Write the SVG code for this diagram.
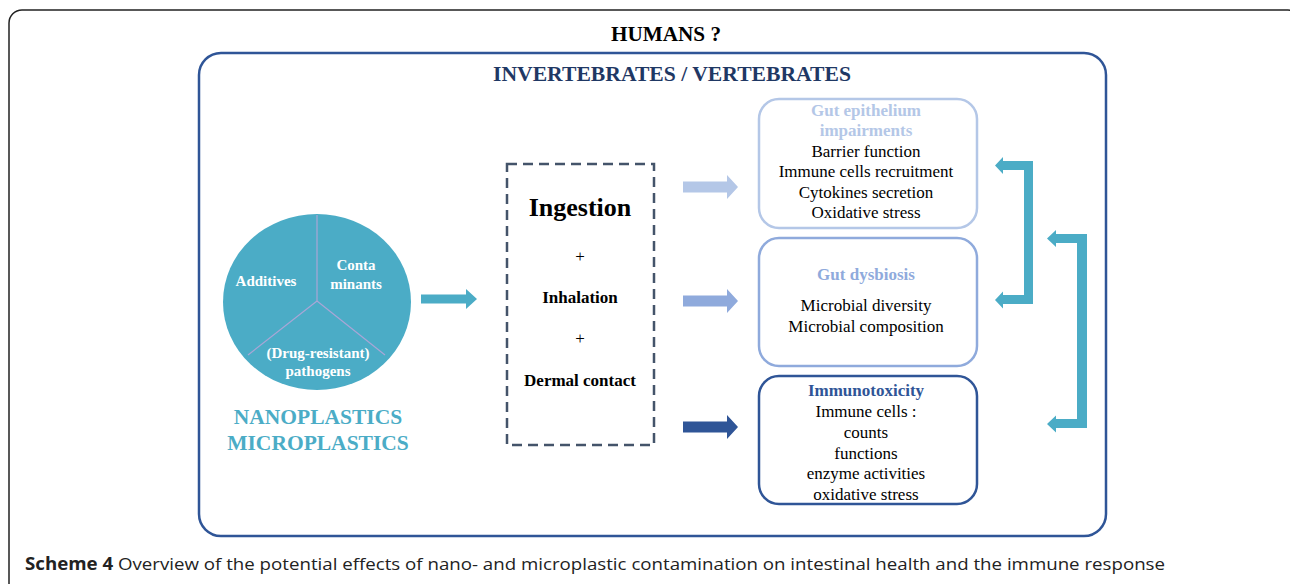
<svg xmlns="http://www.w3.org/2000/svg" width="1290" height="584" viewBox="0 0 1290 584">
<style>
.serif{font-family:"Liberation Serif","Times New Roman",serif;text-anchor:middle}
.b{font-weight:bold}
.w{fill:#ffffff;font-size:15px;font-weight:bold}
.body{font-size:17px;fill:#000}
.box{fill:#ffffff;stroke-width:2.5}
.teal{fill:#4bacc6}
</style>
<rect x="9" y="10" width="1292" height="590" rx="13" fill="#ffffff" stroke="#222" stroke-width="1.5"/>
<text x="666" y="41" class="serif b" font-size="20" textLength="110" lengthAdjust="spacingAndGlyphs">HUMANS ?</text>
<rect x="199" y="53" width="907" height="483" rx="22" fill="none" stroke="#2f5597" stroke-width="2.5"/>
<text x="672" y="81" class="serif b" font-size="21" fill="#1f3864" textLength="358" lengthAdjust="spacingAndGlyphs">INVERTEBRATES / VERTEBRATES</text>

<g id="plastics">
<ellipse cx="317" cy="302" rx="94" ry="88" class="teal"/>
<path d="M317,215 L317,301 M317,301 L248,355 M317,301 L385,355" stroke="#a9a6d6" stroke-width="1.2" fill="none"/>
<text x="266" y="286" class="serif w">Additives</text>
<text x="356" y="270" class="serif w">Conta</text>
<text x="356" y="289" class="serif w">minants</text>
<text x="318" y="358" class="serif w">(Drug-resistant)</text>
<text x="318" y="376" class="serif w">pathogens</text>
<text x="318" y="424" class="serif b" font-size="21.5" fill="#4bacc6">NANOPLASTICS</text>
<text x="318" y="450" class="serif b" font-size="21.5" fill="#4bacc6">MICROPLASTICS</text>
</g>

<g id="routes">
<rect x="507" y="164" width="147" height="281" fill="none" stroke="#44546a" stroke-width="2.5" stroke-dasharray="10,6"/>
<text x="580" y="216" class="serif b" font-size="26">Ingestion</text>
<text x="580" y="262" class="serif" font-size="17">+</text>
<text x="580" y="303" class="serif b" font-size="17">Inhalation</text>
<text x="580" y="344" class="serif" font-size="17">+</text>
<text x="580" y="386" class="serif b" font-size="17">Dermal contact</text>
</g>

<g id="gut-epithelium">
<rect x="759" y="99" width="218" height="129" rx="20" class="box" stroke="#b4c7e7"/>
<text x="866" y="116" class="serif b" font-size="17" fill="#b4c7e7">Gut epithelium</text>
<text x="866" y="136" class="serif b" font-size="17" fill="#b4c7e7">impairments</text>
<text x="866" y="157" class="serif body">Barrier function</text>
<text x="866" y="177" class="serif body">Immune cells recruitment</text>
<text x="866" y="198" class="serif body">Cytokines secretion</text>
<text x="866" y="218" class="serif body">Oxidative stress</text>
</g>

<g id="gut-dysbiosis">
<rect x="759" y="238" width="218" height="128" rx="20" class="box" stroke="#8faadc"/>
<text x="866" y="280" class="serif b" font-size="17" fill="#8faadc">Gut dysbiosis</text>
<text x="866" y="311" class="serif body">Microbial diversity</text>
<text x="866" y="332" class="serif body">Microbial composition</text>
</g>

<g id="immunotoxicity">
<rect x="759" y="376" width="218" height="128" rx="20" class="box" stroke="#2f5597"/>
<text x="866" y="396" class="serif b" font-size="17" fill="#2f5597">Immunotoxicity</text>
<text x="866" y="417" class="serif body">Immune cells :</text>
<text x="866" y="438" class="serif body">counts</text>
<text x="866" y="459" class="serif body">functions</text>
<text x="866" y="479" class="serif body">enzyme activities</text>
<text x="866" y="500" class="serif body">oxidative stress</text>
</g>

<g id="connectors">
<polygon points="421,294.5 466,294.5 466,289 477,299 466,309 466,303.5 421,303.5" fill="#4bacc6"/>
<polygon points="683,181.5 727,181.5 727,175 738,187 727,199 727,192.5 683,192.5" fill="#b4c7e7"/>
<polygon points="683,295.5 727,295.5 727,289 738,301 727,313 727,306.5 683,306.5" fill="#8faadc"/>
<polygon points="683,421.5 727,421.5 727,415 738,427 727,439 727,432.5 683,432.5" fill="#2f5597"/>
<polygon points="1033,161 1033,304 1003,304 1003,308.5 995,300 1003,291.5 1003,295 1024,295 1024,170 1003,170 1003,174 995,165.5 1003,157 1003,161" fill="#4bacc6"/>
<polygon points="1087,234 1087,428 1056,428 1056,432.5 1047,424 1056,415.5 1056,419 1077,419 1077,243 1056,243 1056,247 1047,238.5 1056,230 1056,234" fill="#4bacc6"/>
</g>

<text x="25" y="570" font-family="'Open Sans','Liberation Sans',sans-serif" font-size="17" fill="#222" textLength="1140" lengthAdjust="spacingAndGlyphs"><tspan font-weight="bold">Scheme 4</tspan> Overview of the potential effects of nano- and microplastic contamination on intestinal health and the immune response</text>
</svg>
